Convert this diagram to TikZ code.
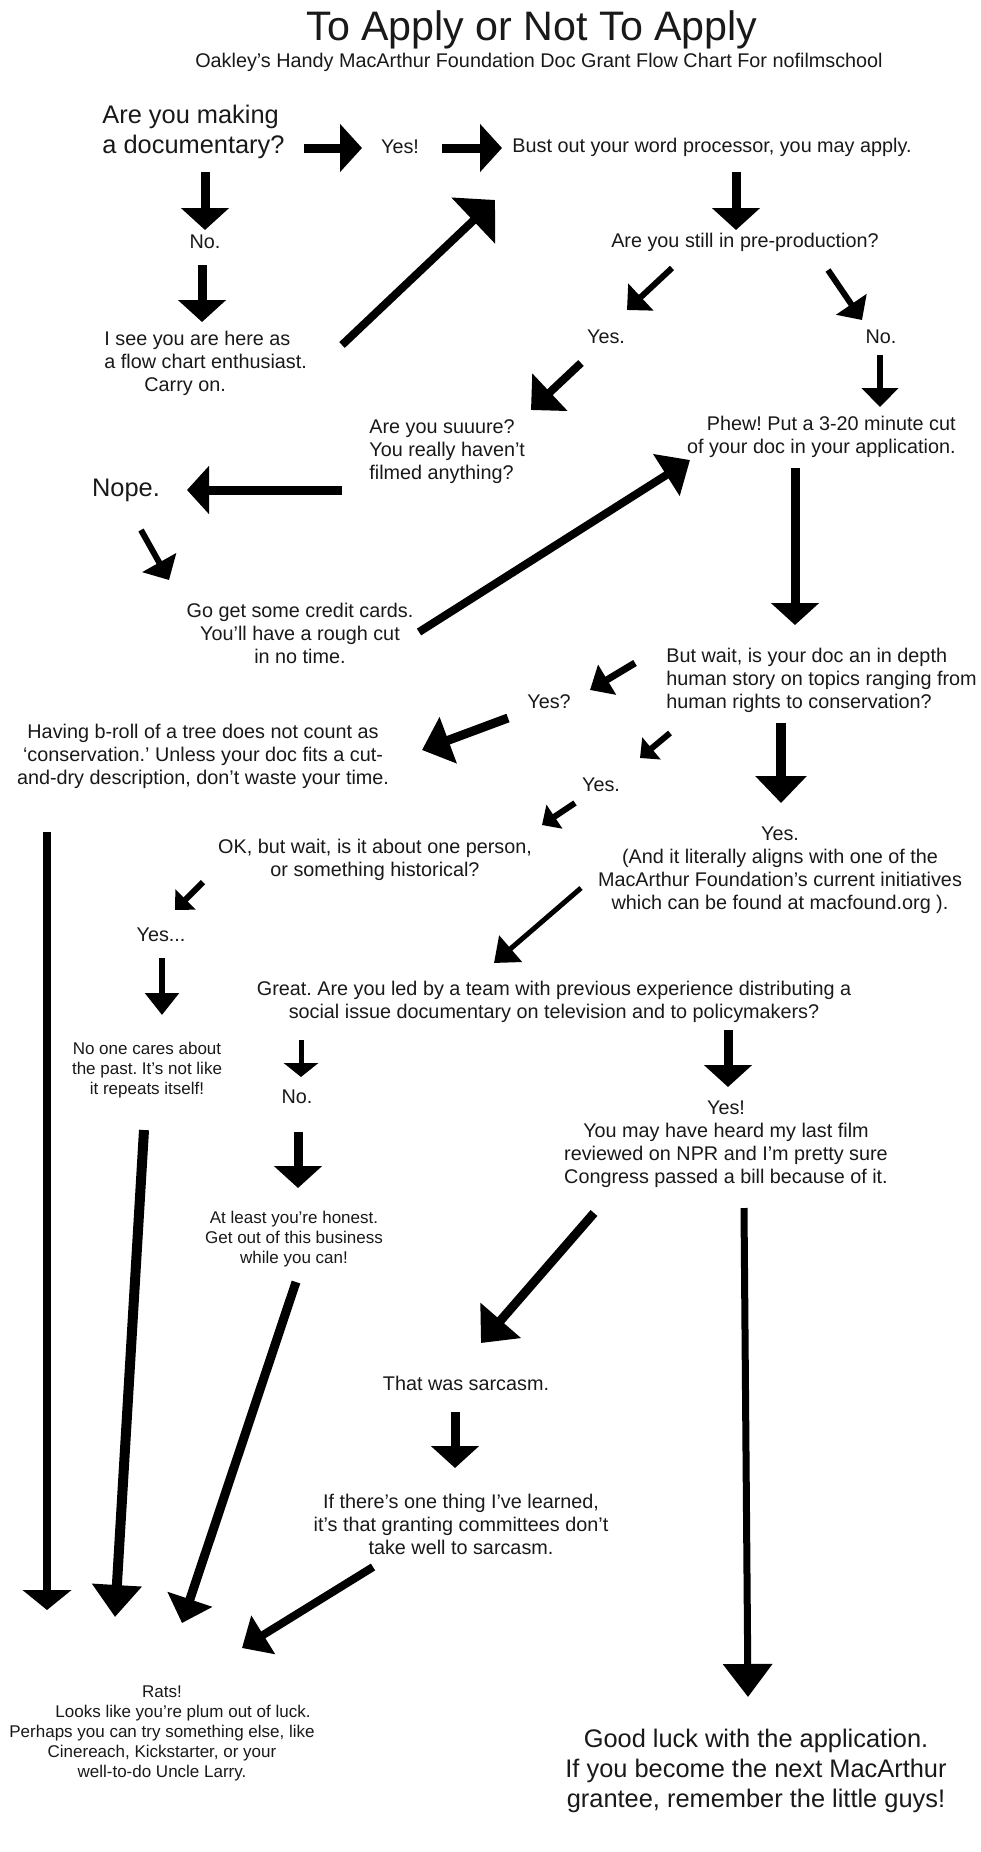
\documentclass[tikz,border=0pt]{standalone}
\usepackage{fontspec}
\setmainfont{Liberation Sans}
\usetikzlibrary{arrows.meta}
\frenchspacing

\tikzset{
  txt/.style={inner sep=0pt, text=black!90, font=\fontsize{9.9}{11.5}\selectfont},
  bigtxt/.style={txt, font=\fontsize{12.7}{15}\selectfont},
  smalltxt/.style={txt, font=\fontsize{8.5}{10}\selectfont},
  arr/.style n args={3}{line width=#1pt, -{Triangle[length=#2pt,width=#3pt]}},
  arrfat/.style={arr={4.5}{11}{23.5}},
  arrmid/.style={arr={3}{9.5}{18}},
  arrsmall/.style={arr={3}{7.5}{14}},
}

\begin{document}
\begin{tikzpicture}[x=0.5pt,y=-0.5pt]
\useasboundingbox (0,0) rectangle (980,1852);
\fill[white] (0,0) rectangle (980,1852);

\node[txt, font=\fontsize{20.6}{24}\selectfont] (title) at (532,30) {To Apply or Not To Apply};
\node[txt] (sub) at (539,62) {Oakley's Handy MacArthur Foundation Doc Grant Flow Chart For nofilmschool};

\node[bigtxt, align=left, anchor=west] (q1) at (102,132) {Are you making\\a documentary?};
\node[txt] (yes1) at (400,147) {Yes!};
\node[txt] (bust) at (712,147) {Bust out your word processor, you may apply.};
\node[txt] (no1) at (205,242) {No.};
\node[txt, align=left, anchor=west] (enth) at (104,363) {I see you are here as\\a flow chart enthusiast.\\\hspace*{20pt}Carry on.};
\node[txt] (preprod) at (745,242) {Are you still in pre-production?};
\node[txt] (yes2) at (606,337) {Yes.};
\node[txt] (no2) at (881,337) {No.};
\node[txt, align=left, anchor=west] (suuure) at (369,452) {Are you suuure?\\You really haven't\\filmed anything?};
\node[txt, align=right, anchor=east] (phew) at (956,437) {Phew! Put a 3-20 minute cut\\of your doc in your application.};
\node[bigtxt] (nope) at (126,490) {Nope.};
\node[txt, align=center] (credit) at (300,633) {Go get some credit cards.\\You'll have a rough cut\\in no time.};
\node[txt, align=left, anchor=west] (butwait) at (666,680) {But wait, is your doc an in depth\\human story on topics ranging from\\human rights to conservation?};
\node[txt] (yesq) at (549,702) {Yes?};
\node[txt, align=center] (broll) at (203,756) {Having b-roll of a tree does not count as\\‘conservation.’ Unless your doc fits a cut-\\and-dry description, don't waste your time.};
\node[txt] (yes3) at (601,785) {Yes.};
\node[txt, align=center] (ok) at (375,860) {OK, but wait, is it about one person,\\or something historical?};
\node[txt, align=center] (yesmac) at (780,870) {Yes.\\(And it literally aligns with one of the\\MacArthur Foundation's current initiatives\\which can be found at macfound.org ).};
\node[txt] (yesdots) at (161,935) {Yes...};
\node[txt, align=center] (great) at (554,1002) {Great. Are you led by a team with previous experience distributing a\\social issue documentary on television and to policymakers?};
\node[smalltxt, align=center] (past) at (147,1070) {No one cares about\\the past. It's not like\\it repeats itself!};
\node[txt] (no3) at (297,1097) {No.};
\node[txt, align=center] (yesnpr) at (726,1144) {Yes!\\You may have heard my last film\\reviewed on NPR and I'm pretty sure\\Congress passed a bill because of it.};
\node[smalltxt, align=center] (honest) at (294,1239) {At least you're honest.\\Get out of this business\\while you can!};
\node[txt] (sarcasm) at (466,1383) {That was sarcasm.};
\node[txt, align=center] (learned) at (461,1524) {If there's one thing I've learned,\\it's that granting committees don't\\take well to sarcasm.};
\node[smalltxt, align=center] (rats) at (162,1733) {Rats!\\\hspace*{21pt}Looks like you're plum out of luck.\\Perhaps you can try something else, like\\Cinereach, Kickstarter, or your\\well-to-do Uncle Larry.};
\node[bigtxt, align=center] (goodluck) at (756,1771) {Good luck with the application.\\If you become the next MacArthur\\grantee, remember the little guys!};

\draw[arrfat] ([shift={(202,16)}]q1.west) -- ([shift={(-38,1)}]yes1.center);
\draw[arrfat] ([shift={(42,1)}]yes1.center) -- ([shift={(-210,1)}]bust.center);
\draw[arrfat] ([shift={(103,40)}]q1.west) -- ([shift={(0,-12)}]no1.center);
\draw[arrfat] ([shift={(-3,23)}]no1.center) -- ([shift={(98,-41)}]enth.west);
\draw[arr={4}{15}{31}] ([shift={(238,-18)}]enth.west) -- ([shift={(-217,53)}]bust.center);
\draw[arrfat] ([shift={(24,25)}]bust.center) -- ([shift={(-9,-12)}]preprod.center);
\draw[arrmid] ([shift={(-73,26)}]preprod.center) -- ([shift={(21,-27)}]yes2.center);
\draw[arrmid] ([shift={(83,28)}]preprod.center) -- ([shift={(-19,-17)}]no2.center);
\draw[arr={4}{13}{25}] ([shift={(-25,26)}]yes2.center) -- ([shift={(162,-42)}]suuure.west);
\draw[arrmid] ([shift={(-1,18)}]no2.center) -- ([shift={(-76,-30)}]phew.east);
\draw[arrfat] ([shift={(-27,38)}]suuure.west) -- ([shift={(61,0)}]nope.center);
\draw[arr={3}{10}{19}] ([shift={(15,40)}]nope.center) -- ([shift={(-131,-53)}]credit.center);
\draw[arr={4}{14}{24}] ([shift={(119,-1)}]credit.center) -- ([shift={(-266,23)}]phew.east);
\draw[arrfat] ([shift={(-161,31)}]phew.east) -- ([shift={(129,-55)}]butwait.west);
\draw[arr={3.5}{10}{17}] ([shift={(-31,-17)}]butwait.west) -- ([shift={(41,-12)}]yesq.center);
\draw[arr={4.5}{14}{24}] ([shift={(-41,16)}]yesq.center) -- ([shift={(219,-6)}]broll.center);
\draw[arrsmall] ([shift={(4,53)}]butwait.west) -- ([shift={(39,-27)}]yes3.center);
\draw[arr={5}{13.5}{25}] ([shift={(115,43)}]butwait.west) -- ([shift={(1,-67)}]yesmac.center);
\draw[arrsmall] ([shift={(-26,18)}]yes3.center) -- ([shift={(167,-35)}]ok.center);
\draw[arrsmall] ([shift={(-172,22)}]ok.center) -- ([shift={(14,-25)}]yesdots.center);
\draw[arr={3}{11}{16.5}] ([shift={(1,23)}]yesdots.center) -- ([shift={(15,-55)}]past.center);
\draw[arr={2.5}{11}{17}] ([shift={(-199,18)}]yesmac.center) -- ([shift={(-60,-39)}]great.center);
\draw[arr={2.5}{7}{17}] ([shift={(-253,38)}]great.center) -- ([shift={(4,-20)}]no3.center);
\draw[arrfat] ([shift={(174,28)}]great.center) -- ([shift={(2,-57)}]yesnpr.center);
\draw[arrfat] ([shift={(1,35)}]no3.center) -- ([shift={(4,-51)}]honest.center);
\draw[arr={4.5}{15}{26}] ([shift={(-132,69)}]yesnpr.center) -- ([shift={(15,-40)}]sarcasm.center);
\draw[arrfat] ([shift={(-11,29)}]sarcasm.center) -- ([shift={(-6,-56)}]learned.center);
\draw[arr={4}{12.5}{22}] ([shift={(-88,43)}]learned.center) -- ([shift={(80,-85)}]rats.center);
\draw[arr={4}{10}{24}] ([shift={(-156,76)}]broll.center) -- ([shift={(-115,-123)}]rats.center);
\draw[arr={5}{16}{24}] ([shift={(-3,60)}]past.center) -- ([shift={(-47,-116)}]rats.center);
\draw[arr={4.5}{12.5}{23}] ([shift={(2,43)}]honest.center) -- ([shift={(20,-110)}]rats.center);
\draw[arr={3.5}{16.5}{24}] ([shift={(18,64)}]yesnpr.center) -- ([shift={(-8,-74)}]goodluck.center);
\end{tikzpicture}
\end{document}
